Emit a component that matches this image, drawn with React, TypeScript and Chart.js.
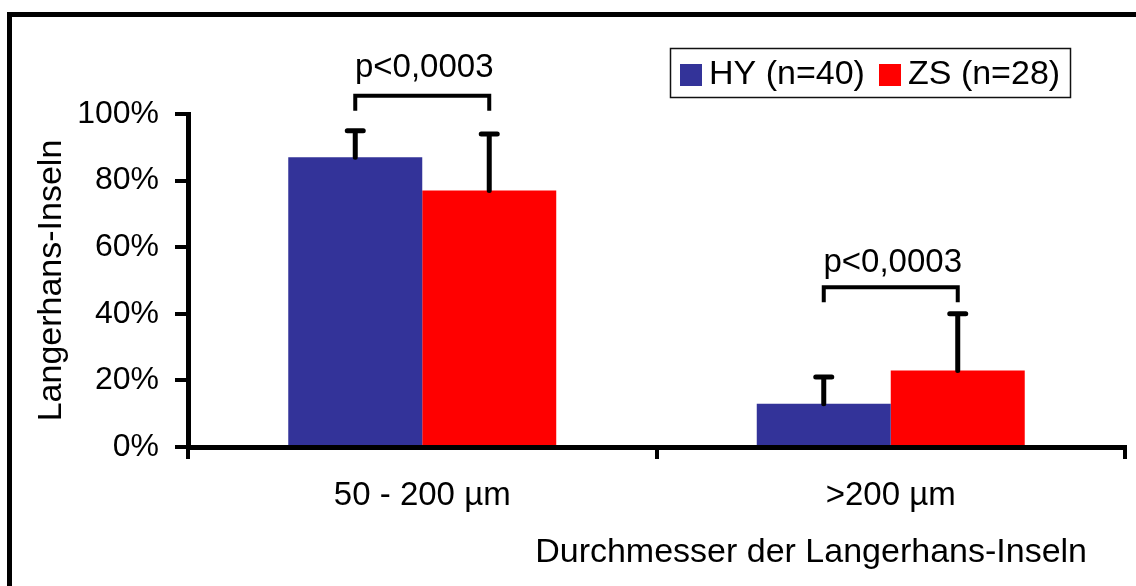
import React, { useEffect, useRef } from "react";
import { Chart, registerables } from "chart.js";

Chart.register(...registerables);

// Data
const categories = ["50 - 200 µm", ">200 µm"];
const hyValues = [87, 13];
const zsValues = [77, 23];
const hySd = [8, 8];
const zsSd = [17, 17];
const seriesNames = ["HY (n=40)", "ZS (n=28)"];
const pLabels = ["p<0,0003", "p<0,0003"];
const bracketLevels = [105.5, 48];
const pTextLevels = [111, 52.5];
const yAxisTitle = "Langerhans-Inseln";
const xAxisTitle = "Durchmesser der Langerhans-Inseln";

const BLUE = "#333399";
const RED = "#FF0000";
const FONT = "'Liberation Sans', Arial, Helvetica, sans-serif";
const TICK_SIZE = 32;
const TITLE_SIZE = 34;
const P_SIZE = 33;

const annotations = {
  id: "annotations",
  afterDatasetsDraw(chart: any) {
    const ctx = chart.ctx;
    const y = chart.scales.y;
    const sds = [hySd, zsSd];
    ctx.save();
    ctx.strokeStyle = "#000";

    // upper error bars
    ctx.lineWidth = 5;
    ctx.lineCap = "round";
    chart.data.datasets.forEach((ds: any, i: number) => {
      const meta = chart.getDatasetMeta(i);
      meta.data.forEach((bar: any, j: number) => {
        const top = y.getPixelForValue(ds.data[j] + sds[i][j]);
        ctx.beginPath();
        ctx.moveTo(bar.x, bar.y);
        ctx.lineTo(bar.x, top);
        ctx.moveTo(bar.x - 8, top);
        ctx.lineTo(bar.x + 8, top);
        ctx.stroke();
      });
    });

    // significance brackets
    const m0 = chart.getDatasetMeta(0);
    const m1 = chart.getDatasetMeta(1);
    ctx.lineWidth = 4;
    ctx.lineCap = "butt";
    ctx.lineJoin = "miter";
    ctx.font = `${P_SIZE}px ${FONT}`;
    ctx.fillStyle = "#000";
    ctx.textAlign = "center";
    ctx.textBaseline = "alphabetic";
    categories.forEach((_, j) => {
      const x1 = m0.data[j].x;
      const x2 = m1.data[j].x;
      const yb = y.getPixelForValue(bracketLevels[j]);
      const ye = y.getPixelForValue(bracketLevels[j] - 4.5);
      ctx.beginPath();
      ctx.moveTo(x1, ye);
      ctx.lineTo(x1, yb);
      ctx.lineTo(x2, yb);
      ctx.lineTo(x2, ye);
      ctx.stroke();
      ctx.fillText(pLabels[j], (x1 + x2) / 2 + 2, y.getPixelForValue(pTextLevels[j]));
    });
    ctx.restore();
  },
  afterDraw(chart: any) {
    const ctx = chart.ctx;
    const area = chart.chartArea;
    ctx.save();
    ctx.fillStyle = "#000";
    ctx.font = `${TITLE_SIZE}px ${FONT}`;

    // axis titles
    ctx.save();
    ctx.translate(52, (area.top + area.bottom) / 2);
    ctx.rotate(-Math.PI / 2);
    ctx.textAlign = "center";
    ctx.textBaseline = "middle";
    ctx.fillText(yAxisTitle, 0, 0);
    ctx.restore();

    ctx.textAlign = "right";
    ctx.textBaseline = "alphabetic";
    ctx.fillText(xAxisTitle, area.right - 38, 562);

    // legend
    const lx = 670;
    const ly = 48;
    const lw = 400;
    const lh = 49;
    ctx.fillStyle = "#fff";
    ctx.fillRect(lx, ly, lw, lh);
    ctx.strokeStyle = "#111";
    ctx.lineWidth = 1.5;
    ctx.strokeRect(lx + 0.5, ly + 0.5, lw, lh);
    const colors = [BLUE, RED];
    const itemX = [680, 879];
    ctx.textAlign = "left";
    ctx.textBaseline = "middle";
    seriesNames.forEach((name, i) => {
      ctx.fillStyle = colors[i];
      ctx.fillRect(itemX[i], 64, 22, 22);
      ctx.fillStyle = "#000";
      ctx.fillText(name, itemX[i] + 29, 75);
    });
    ctx.restore();
  },
};

export default function App() {
  const canvasRef = useRef<HTMLCanvasElement | null>(null);

  useEffect(() => {
    if (!canvasRef.current) return;
    const chart = new Chart(canvasRef.current, {
      type: "bar",
      data: {
        labels: categories,
        datasets: [
          { label: seriesNames[0], data: hyValues, backgroundColor: BLUE, borderWidth: 0 },
          { label: seriesNames[1], data: zsValues, backgroundColor: RED, borderWidth: 0 },
        ],
      },
      options: {
        animation: false,
        responsive: false,
        maintainAspectRatio: false,
        datasets: { bar: { categoryPercentage: 0.572, barPercentage: 1 } },
        layout: { padding: { top: 114, right: 11, left: 0, bottom: 0 } },
        plugins: { legend: { display: false }, tooltip: { enabled: false } },
        scales: {
          x: {
            afterFit: (s: any) => {
              s.height = 139;
            },
            grid: {
              display: true,
              drawOnChartArea: false,
              drawTicks: true,
              tickLength: 12,
              color: "#000",
              lineWidth: 4,
              offset: true,
            },
            border: { display: true, color: "#000", width: 5 },
            ticks: {
              color: "#000",
              font: { family: FONT, size: 33 },
              padding: 17,
              maxRotation: 0,
            },
          },
          y: {
            min: 0,
            max: 100,
            afterFit: (s: any) => {
              s.width = 188;
            },
            grid: {
              display: true,
              drawOnChartArea: false,
              drawTicks: true,
              tickLength: 13,
              color: "#000",
              lineWidth: 4,
            },
            border: { display: true, color: "#000", width: 5 },
            ticks: {
              stepSize: 20,
              color: "#000",
              font: { family: FONT, size: TICK_SIZE },
              padding: 16,
              callback: (v: any) => `${v}%`,
            },
          },
        },
      },
      plugins: [annotations],
    });
    return () => chart.destroy();
  }, []);

  return (
    <div
      style={{
        position: "fixed",
        left: 0,
        top: 0,
        width: 1136,
        height: 586,
        overflow: "hidden",
        background: "#fff",
      }}
    >
      <div
        style={{
          position: "absolute",
          left: 7,
          top: 12,
          width: 1250,
          height: 700,
          border: "5px solid #000",
        }}
      />
      <canvas
        ref={canvasRef}
        width={1136}
        height={586}
        style={{ position: "absolute", left: 0, top: 0, width: 1136, height: 586 }}
      />
    </div>
  );
}
